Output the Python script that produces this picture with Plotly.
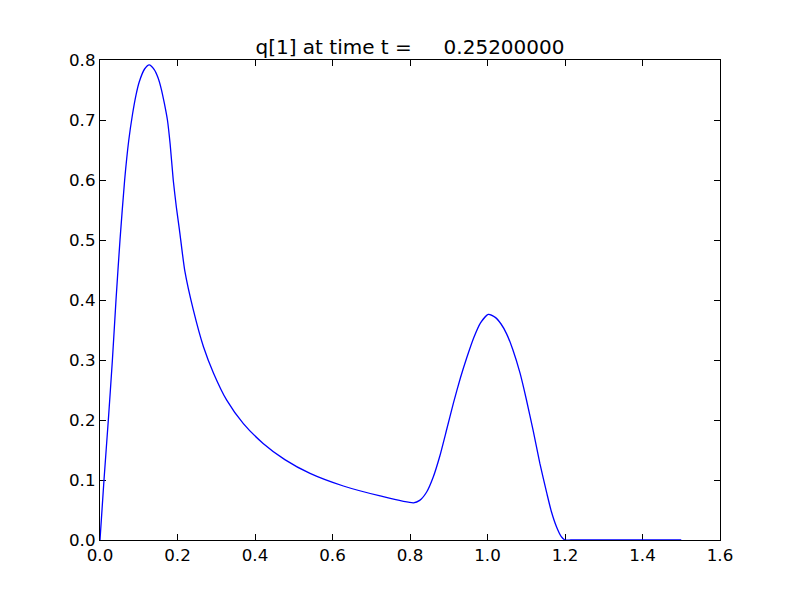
import plotly.graph_objects as go

x_vals = [0, 0.0103, 0.0215, 0.032, 0.0413, 0.0516, 0.0636, 0.074, 0.084, 0.093,
          0.101, 0.115, 0.127, 0.140, 0.150, 0.158, 0.166, 0.174, 0.181, 0.189,
          0.197, 0.205, 0.219, 0.241, 0.267, 0.293, 0.327, 0.370, 0.421, 0.477,
          0.542, 0.628, 0.723, 0.809, 0.825, 0.843, 0.860, 0.877, 0.895, 0.912,
          0.930, 0.946, 0.965, 0.982, 1.002, 1.020, 1.035, 1.049, 1.065, 1.084,
          1.100, 1.118, 1.135, 1.153, 1.165, 1.178, 1.190, 1.200, 1.215, 1.250,
          1.300, 1.350, 1.400, 1.450, 1.500]
q_vals = [0, 0.1, 0.2, 0.3, 0.4, 0.5, 0.6, 0.665, 0.71, 0.742,
          0.763, 0.785, 0.792, 0.784, 0.770, 0.752, 0.728, 0.700, 0.660, 0.600,
          0.555, 0.517, 0.448, 0.383, 0.322, 0.278, 0.233, 0.194, 0.161, 0.134,
          0.111, 0.090, 0.0735, 0.062, 0.066, 0.080, 0.105, 0.140, 0.185, 0.228,
          0.270, 0.303, 0.338, 0.362, 0.376, 0.371, 0.360, 0.344, 0.318, 0.278,
          0.235, 0.182, 0.128, 0.078, 0.047, 0.022, 0.006, 0.0, 0.0, 0.0,
          0.0, 0.0, 0.0, 0.0, 0.0]

x_ticks = [0.0, 0.2, 0.4, 0.6, 0.8, 1.0, 1.2, 1.4, 1.6]
y_ticks = [0.0, 0.1, 0.2, 0.3, 0.4, 0.5, 0.6, 0.7, 0.8]
title_text = "q[1] at time t =" + "\u00a0" * 5 + "0.25200000"

fig = go.Figure()
fig.add_trace(go.Scatter(x=x_vals, y=q_vals, mode="lines",
                         line=dict(color="#0000ff", width=1.3, shape="spline", smoothing=0.6),
                         showlegend=False, cliponaxis=False))

axis_common = dict(showgrid=False, zeroline=False, showline=True, linecolor="black",
                   linewidth=1.2, mirror="ticks", ticks="inside", ticklen=6,
                   tickcolor="black", tickwidth=1, layer="below traces",
                   tickfont=dict(family="DejaVu Sans", size=16.7, color="black"))

# page has an 8px body margin; margins compensate so the plot area sits at 100..720 x 60..540
fig.update_layout(
    width=800, height=600,
    margin=dict(l=92, r=88, t=52, b=68),
    paper_bgcolor="white", plot_bgcolor="white",
    title=dict(text=title_text, x=402 / 800, xanchor="center", y=1 - 39 / 600, yanchor="middle",
               font=dict(family="DejaVu Sans", size=20, color="black")),
    xaxis=dict(range=[0, 1.6], tickvals=x_ticks, ticktext=[f"{v:.1f}" for v in x_ticks], **axis_common),
    yaxis=dict(range=[0, 0.8], tickvals=y_ticks, ticktext=[f"{v:.1f}" for v in y_ticks], **axis_common),
)

fig.write_html("out.html")
